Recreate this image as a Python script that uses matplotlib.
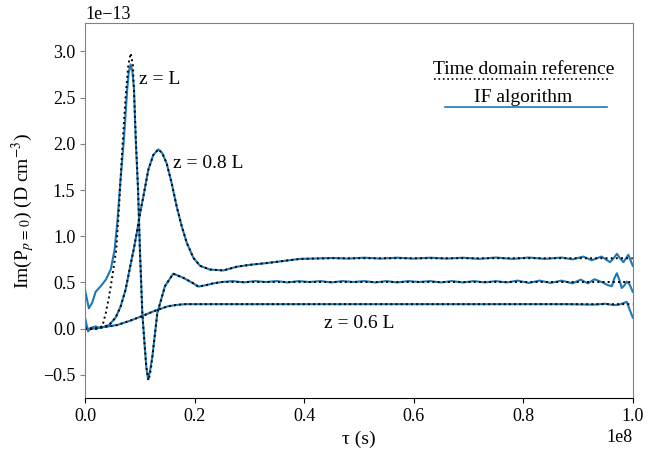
import numpy as np
import matplotlib
matplotlib.use("Agg")
import matplotlib.pyplot as plt

plt.rcParams['font.family'] = ['Liberation Serif', 'DejaVu Serif']
plt.rcParams['mathtext.fontset'] = 'stix'

# tau in units of 1e8 s, Im(P) in units of 1e-13 D cm^-3
# ---- z = L ----
t_L_if = [0, 0.007, 0.013, 0.0195, 0.0287, 0.038, 0.047, 0.054, 0.059, 0.064, 0.071, 0.077, 0.080,
          0.0834, 0.0865, 0.0895, 0.0925, 0.0968, 0.100, 0.1046, 0.109, 0.112, 0.115, 0.118,
          0.123, 0.132, 0.146, 0.161, 0.1795, 0.195, 0.207, 0.22, 0.234, 0.25, 0.27, 0.29,
          0.31, 0.33, 0.35, 0.37, 0.39, 0.41, 0.43, 0.45, 0.47, 0.49, 0.51, 0.53, 0.55, 0.57,
          0.59, 0.61, 0.63, 0.65, 0.67, 0.69, 0.71, 0.73, 0.75, 0.77, 0.79, 0.81, 0.83, 0.85,
          0.87, 0.89, 0.905, 0.918, 0.93, 0.945, 0.955, 0.962, 0.966, 0.971, 0.976, 0.98,
          0.985, 0.989, 0.994, 1.0]
p_L_if = [0.42, 0.22, 0.28, 0.40, 0.46, 0.53, 0.64, 0.855, 1.15, 1.55, 2.05, 2.59, 2.78,
          2.86, 2.78, 2.59, 2.05, 1.51, 0.89, 0.17, -0.19, -0.42, -0.545, -0.48,
          -0.30, 0.17, 0.46, 0.595, 0.55, 0.50, 0.455, 0.47, 0.49, 0.505, 0.515, 0.50,
          0.515, 0.505, 0.515, 0.50, 0.515, 0.505, 0.515, 0.50, 0.515, 0.505, 0.515, 0.50,
          0.515, 0.50, 0.515, 0.505, 0.515, 0.50, 0.515, 0.50, 0.515, 0.50, 0.515, 0.50,
          0.52, 0.495, 0.52, 0.495, 0.52, 0.49, 0.53, 0.49, 0.535, 0.50, 0.47, 0.46,
          0.54, 0.60, 0.52, 0.44, 0.47, 0.51, 0.48, 0.40]

t_L_td = [0, 0.02, 0.0316, 0.038, 0.044, 0.050, 0.057, 0.062, 0.068, 0.074, 0.079, 0.0834,
          0.0875, 0.0925, 0.0968, 0.100, 0.1046, 0.109, 0.112, 0.116, 0.12, 0.123, 0.132,
          0.146, 0.161, 0.1795, 0.195, 0.207, 0.22, 0.234, 0.25, 0.30, 0.40, 0.50, 0.60,
          0.70, 0.80, 0.90, 1.0]
p_L_td = [0, 0.0, 0.025, 0.17, 0.35, 0.57, 0.855, 1.30, 1.95, 2.5, 2.85, 2.98,
          2.85, 2.1, 1.51, 0.89, 0.17, -0.19, -0.42, -0.56, -0.45, -0.30, 0.17,
          0.46, 0.595, 0.55, 0.50, 0.455, 0.47, 0.49, 0.505, 0.505, 0.505, 0.505, 0.505,
          0.505, 0.505, 0.505, 0.505]

# ---- z = 0.8 L ----
t_08_if = [0, 0.0055, 0.0115, 0.0195, 0.0256, 0.0347, 0.044, 0.056, 0.065, 0.074, 0.0834,
           0.089, 0.0955, 0.1005, 0.1065, 0.1156, 0.1247, 0.1338, 0.141, 0.149, 0.158, 0.1674,
           0.1765, 0.1857, 0.198, 0.21, 0.228, 0.2525, 0.277, 0.30, 0.332, 0.3926, 0.453,
           0.48, 0.51, 0.54, 0.57, 0.60, 0.63, 0.66, 0.69, 0.72, 0.75, 0.78, 0.81, 0.84,
           0.87, 0.89, 0.91, 0.925, 0.943, 0.9585, 0.965, 0.971, 0.977, 0.983, 0.992, 1.0]
p_08_if = [0.12, -0.03, 0.01, 0.025, 0.01, 0.02, 0.04, 0.12, 0.24, 0.42, 0.70,
           0.86, 1.07, 1.25, 1.43, 1.72, 1.88, 1.94, 1.90, 1.79, 1.58, 1.32,
           1.11, 0.93, 0.765, 0.68, 0.64, 0.63, 0.67, 0.69, 0.71, 0.755, 0.765,
           0.758, 0.768, 0.758, 0.768, 0.758, 0.768, 0.758, 0.768, 0.755, 0.77, 0.755,
           0.77, 0.755, 0.77, 0.75, 0.78, 0.74, 0.78, 0.72, 0.76, 0.81, 0.76, 0.72, 0.80, 0.68]

t_08_td = [0, 0.02, 0.035, 0.044, 0.056, 0.065, 0.074, 0.0834, 0.089, 0.0955, 0.1005, 0.1065,
           0.1156, 0.1247, 0.1338, 0.141, 0.149, 0.158, 0.1674, 0.1765, 0.1857, 0.198, 0.21,
           0.228, 0.2525, 0.277, 0.30, 0.332, 0.3926, 0.453, 0.6, 0.8, 1.0]
p_08_td = [0, 0.0, 0.02, 0.04, 0.12, 0.24, 0.42, 0.70, 0.86, 1.07, 1.25, 1.43,
           1.72, 1.88, 1.94, 1.90, 1.79, 1.58, 1.32, 1.11, 0.93, 0.765, 0.68,
           0.64, 0.63, 0.67, 0.69, 0.71, 0.755, 0.762, 0.762, 0.762, 0.762]

# ---- z = 0.6 L ----
t_06_if = [0, 0.016, 0.059, 0.0817, 0.1017, 0.126, 0.138, 0.150, 0.165, 0.181, 0.2355, 0.30,
           0.40, 0.50, 0.60, 0.70, 0.80, 0.88, 0.93, 0.95, 0.965, 0.975, 0.989, 1.0]
p_06_if = [0.0, 0.0, 0.04, 0.085, 0.13, 0.19, 0.215, 0.24, 0.255, 0.265, 0.265, 0.265,
           0.265, 0.265, 0.265, 0.265, 0.265, 0.265, 0.26, 0.27, 0.255, 0.26, 0.29, 0.12]

t_06_td = [0, 0.016, 0.059, 0.0817, 0.1017, 0.126, 0.138, 0.150, 0.165, 0.181, 0.2355, 0.40,
           0.60, 0.80, 1.0]
p_06_td = [0.0, 0.0, 0.04, 0.085, 0.13, 0.19, 0.215, 0.24, 0.255, 0.265, 0.265, 0.265,
           0.265, 0.265, 0.265]

labels = ['z = L', 'z = 0.8 L', 'z = 0.6 L']
label_pos = [(0.099, 2.70), (0.160, 1.79), (0.436, 0.054)]

fig = plt.figure(figsize=(6.71, 4.5), dpi=100)
ax = fig.add_axes([0.1267, 0.1156, 0.8163, 0.8334])

blue = '#1f77b4'
xs, ys = 1e8, 1e-13
for t, p in [(t_L_if, p_L_if), (t_08_if, p_08_if), (t_06_if, p_06_if)]:
    ax.plot(np.array(t) * xs, np.array(p) * ys, color=blue, lw=1.5)
for t, p in [(t_L_td, p_L_td), (t_08_td, p_08_td), (t_06_td, p_06_td)]:
    ax.plot(np.array(t) * xs, np.array(p) * ys, color='black', ls=':', lw=1.4)

for lab, (x, y) in zip(labels, label_pos):
    ax.text(x * xs, y * ys, lab, fontsize=14, va='center', ha='left')

# legend: text above its line sample
ax.plot([0.637, 0.954], [0.85, 0.85], transform=ax.transAxes, color='black', ls=':', lw=1.2)
ax.plot([0.657, 0.953], [0.777, 0.777], transform=ax.transAxes, color=blue, lw=1.2)
ax.text(0.80, 0.877, 'Time domain reference', transform=ax.transAxes, fontsize=14,
        ha='center', va='center')
ax.text(0.80, 0.802, 'IF algorithm', transform=ax.transAxes, fontsize=14,
        ha='center', va='center')

ax.set_xlim(0, 1e8)
ax.set_ylim(-0.75e-13, 3.308e-13)
ax.set_xticks(np.arange(0, 1.01, 0.2) * 1e8)
ax.set_yticks(np.arange(-0.5, 3.01, 0.5) * 1e-13)
ax.tick_params(labelsize=13)
ax.xaxis.get_offset_text().set_fontsize(13)
ax.yaxis.get_offset_text().set_fontsize(13)

gray = '#808080'
for s in ['left', 'top', 'right']:
    ax.spines[s].set_color(gray)
ax.tick_params(axis='y', color=gray)

ax.set_xlabel('τ (s)', fontsize=14)
ax.set_ylabel('Im(P$_{p\\,=\\,0}$) (D cm$^{-3}$)', fontsize=14)

fig.savefig('out.png', dpi=100)
